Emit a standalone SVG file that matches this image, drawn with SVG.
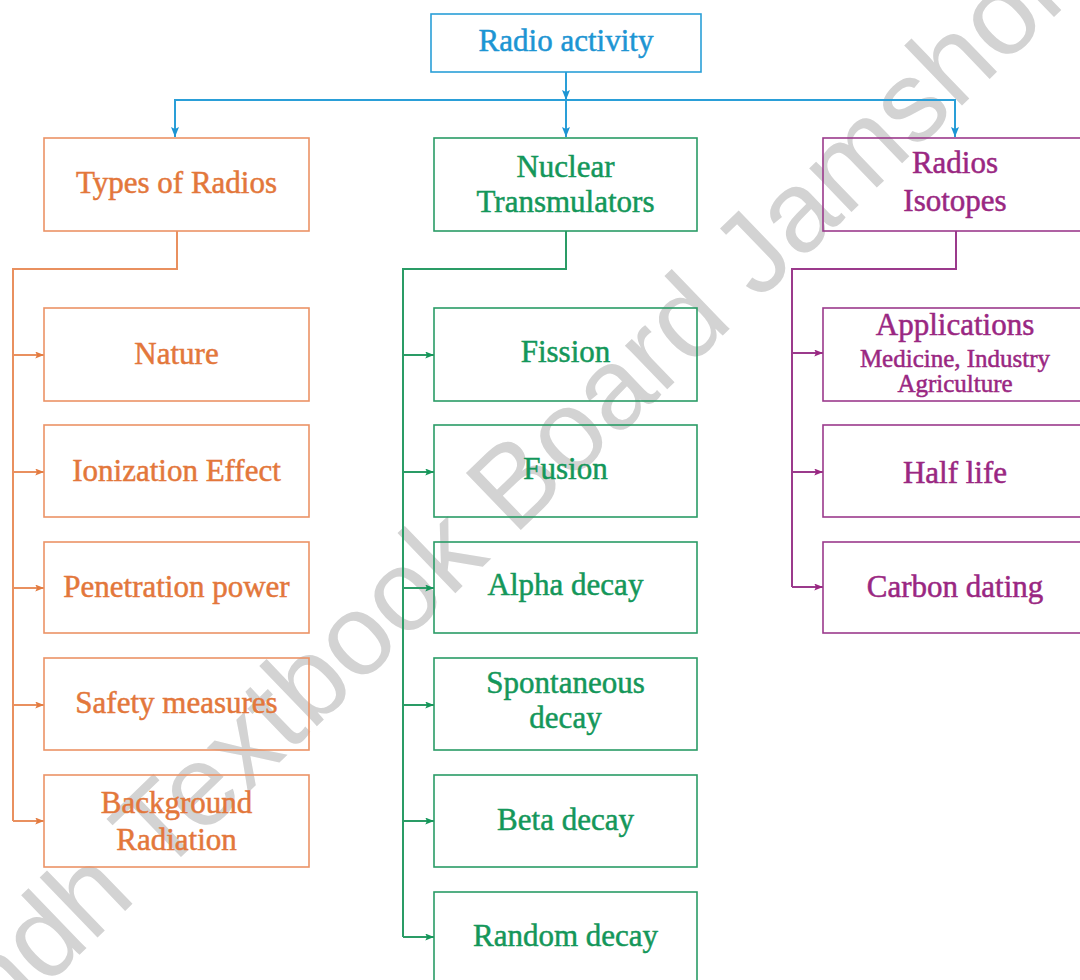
<svg xmlns="http://www.w3.org/2000/svg" width="1080" height="980" viewBox="0 0 1080 980">
<style>
text{font-family:"Liberation Serif","Times New Roman",serif;font-size:31px;text-anchor:middle;stroke-width:0.5}
.wm{font-family:"Liberation Sans",Arial,sans-serif;font-size:115px;fill:#d3d3d3;text-anchor:middle;stroke:none}
.bx{fill:none;stroke-width:1.6}
.b .bx{stroke:#2a9fd8}.b text{fill:#1d95d3;stroke:#1d95d3}
.o .bx{stroke:#eb9366}.o text{fill:#e3773b;stroke:#e3773b}
.g .bx{stroke:#2a9c66}.g text{fill:#14975a;stroke:#14975a}
.p .bx{stroke:#9b3a8c}.p text{fill:#9a2782;stroke:#9a2782}
.cb{stroke:#2a9fd8;stroke-width:2;fill:none}
.co{stroke:#e9905f;stroke-width:2;fill:none}
.cg{stroke:#2a9c66;stroke-width:2;fill:none}
.cp{stroke:#9b3a8c;stroke-width:2;fill:none}
.sm{font-size:25px}
</style>
<defs>
<marker id="mb" viewBox="0 0 10 8" refX="10" refY="4" markerWidth="10" markerHeight="9" markerUnits="userSpaceOnUse" orient="auto"><path d="M0,0 L10,4 L0,8 L2,4 z" fill="#1d95d3"/></marker>
<marker id="mo" viewBox="0 0 10 8" refX="10" refY="4" markerWidth="10" markerHeight="7" markerUnits="userSpaceOnUse" orient="auto"><path d="M0,0 L10,4 L0,8 L2,4 z" fill="#e37b40"/></marker>
<marker id="mg" viewBox="0 0 10 8" refX="10" refY="4" markerWidth="10" markerHeight="7" markerUnits="userSpaceOnUse" orient="auto"><path d="M0,0 L10,4 L0,8 L2,4 z" fill="#14975a"/></marker>
<marker id="mp" viewBox="0 0 10 8" refX="10" refY="4" markerWidth="10" markerHeight="7" markerUnits="userSpaceOnUse" orient="auto"><path d="M0,0 L10,4 L0,8 L2,4 z" fill="#9a2782"/></marker>
</defs>
<rect width="1080" height="980" fill="#ffffff"/>
<text class="wm" transform="translate(524,527) rotate(-43.9)">Sindh Textbook Board Jamshoro</text>

<g id="connectors">
<path class="cb" d="M566,72 V100" marker-end="url(#mb)"/>
<path class="cb" d="M566,100 V137" marker-end="url(#mb)"/>
<path class="cb" d="M175,137 V100 H955 V137"/>
<path class="cb" d="M175,100 V137" marker-end="url(#mb)"/>
<path class="cb" d="M955,100 V137" marker-end="url(#mb)"/>

<path class="co" d="M177,231 V269 H13 V821"/>
<path class="co" d="M13,355 H44" marker-end="url(#mo)"/>
<path class="co" d="M13,472 H44" marker-end="url(#mo)"/>
<path class="co" d="M13,588 H44" marker-end="url(#mo)"/>
<path class="co" d="M13,705 H44" marker-end="url(#mo)"/>
<path class="co" d="M13,821 H44" marker-end="url(#mo)"/>

<path class="cg" d="M566,231 V269 H403 V937"/>
<path class="cg" d="M403,355 H434" marker-end="url(#mg)"/>
<path class="cg" d="M403,472 H434" marker-end="url(#mg)"/>
<path class="cg" d="M403,588 H434" marker-end="url(#mg)"/>
<path class="cg" d="M403,705 H434" marker-end="url(#mg)"/>
<path class="cg" d="M403,821 H434" marker-end="url(#mg)"/>
<path class="cg" d="M403,937 H434" marker-end="url(#mg)"/>

<path class="cp" d="M956,231 V269 H792 V587"/>
<path class="cp" d="M792,353 H823" marker-end="url(#mp)"/>
<path class="cp" d="M792,472 H823" marker-end="url(#mp)"/>
<path class="cp" d="M792,587 H823" marker-end="url(#mp)"/>
</g>

<g id="radio-activity" class="b"><rect class="bx" x="431" y="14" width="270" height="58"/><text x="566" y="51">Radio activity</text></g>

<g id="types-of-radios" class="o"><rect class="bx" x="44" y="138" width="265" height="93"/><text x="176.5" y="193">Types of Radios</text></g>
<g id="nature" class="o"><rect class="bx" x="44" y="308" width="265" height="93"/><text x="176.5" y="364">Nature</text></g>
<g id="ionization" class="o"><rect class="bx" x="44" y="425" width="265" height="92"/><text x="176.5" y="481">Ionization Effect</text></g>
<g id="penetration" class="o"><rect class="bx" x="44" y="542" width="265" height="91"/><text x="176.5" y="597">Penetration power</text></g>
<g id="safety" class="o"><rect class="bx" x="44" y="658" width="265" height="92"/><text x="176.5" y="713">Safety measures</text></g>
<g id="background" class="o"><rect class="bx" x="44" y="775" width="265" height="92"/><text x="176.5" y="813">Background</text><text x="176.5" y="850">Radiation</text></g>

<g id="nuclear" class="g"><rect class="bx" x="434" y="138" width="263" height="93"/><text x="565.5" y="177">Nuclear</text><text x="565.5" y="212">Transmulators</text></g>
<g id="fission" class="g"><rect class="bx" x="434" y="308" width="263" height="93"/><text x="565.5" y="362">Fission</text></g>
<g id="fusion" class="g"><rect class="bx" x="434" y="425" width="263" height="92"/><text x="565.5" y="479">Fusion</text></g>
<g id="alpha" class="g"><rect class="bx" x="434" y="542" width="263" height="91"/><text x="565.5" y="595">Alpha decay</text></g>
<g id="spontaneous" class="g"><rect class="bx" x="434" y="658" width="263" height="92"/><text x="565.5" y="693">Spontaneous</text><text x="565.5" y="728">decay</text></g>
<g id="beta" class="g"><rect class="bx" x="434" y="775" width="263" height="92"/><text x="565.5" y="830">Beta decay</text></g>
<g id="random" class="g"><rect class="bx" x="434" y="892" width="263" height="95"/><text x="565.5" y="946">Random decay</text></g>

<g id="isotopes" class="p"><rect class="bx" x="823" y="138" width="262" height="93"/><text x="955" y="173">Radios</text><text x="955" y="211">Isotopes</text></g>
<g id="applications" class="p"><rect class="bx" x="823" y="308" width="262" height="93"/><text x="955" y="335">Applications</text><text class="sm" x="955" y="367">Medicine, Industry</text><text class="sm" x="955" y="392">Agriculture</text></g>
<g id="half-life" class="p"><rect class="bx" x="823" y="425" width="262" height="92"/><text x="955" y="483">Half life</text></g>
<g id="carbon" class="p"><rect class="bx" x="823" y="542" width="262" height="91"/><text x="955" y="597">Carbon dating</text></g>
</svg>
